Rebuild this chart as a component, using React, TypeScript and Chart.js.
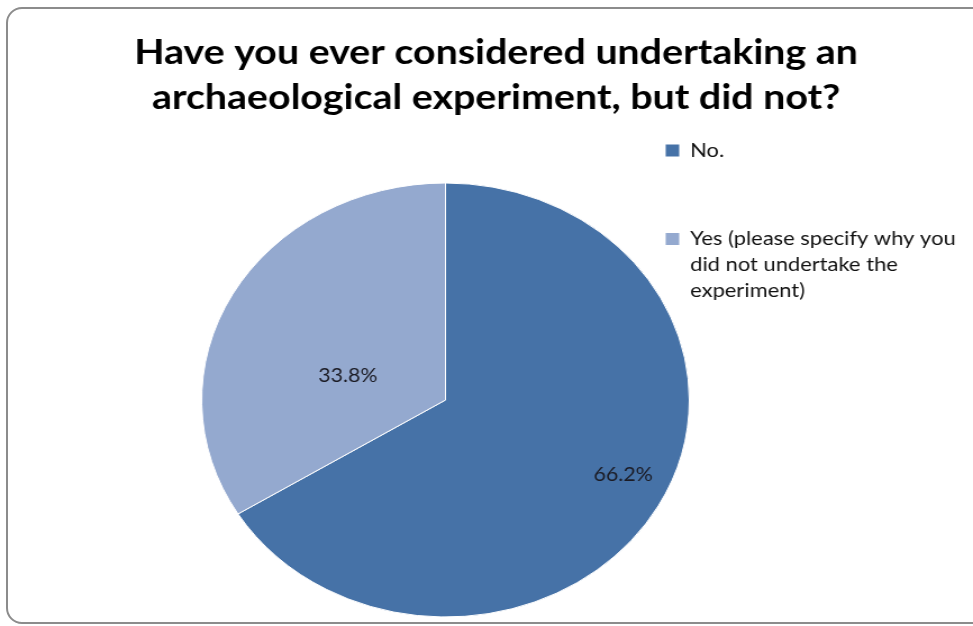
import { useEffect, useRef } from "react";
import { Chart, registerables } from "chart.js";

Chart.register(...registerables);

// ---- data ----
const categories = ["No.", "Yes (please specify why you did not undertake the experiment)"];
const legendLines = [["No."], ["Yes (please specify why you", "did not undertake the", "experiment)"]];
const percentages = [66.2, 33.8];
const sliceColors = ["#4672a7", "#94a9cf"];
const titleLines = ["Have you ever considered undertaking an", "archaeological experiment, but did not?"];

// label placement inside each slice: fraction of radius / fraction of sweep
const labelRadial = [0.806, 0.416];
const labelSweep = [0.484, 0.39];

// ---- layout (canvas units, before horizontal stretch) ----
const PAGE_W = 973;
const PAGE_H = 626;
const CANVAS_W = 866;
const STRETCH = PAGE_W / CANVAS_W;
const TITLE_CENTER_X = 441.5;
const PIE_CENTER_X = 396.5;
const PIE_RADIUS = 217;
const LEGEND_BOX_X = 592.5;
const LEGEND_FONT = 19.5;
const LEGEND_BOX = 12;
const LEGEND_PAD = 69;

const pctLabels = {
  id: "pctLabels",
  afterDatasetsDraw(chart: any) {
    const ctx = chart.ctx;
    const meta = chart.getDatasetMeta(0);
    const data = chart.data.datasets[0].data as number[];
    const total = data.reduce((a, b) => a + b, 0);
    ctx.save();
    ctx.font = "19px Lato";
    ctx.fillStyle = "#1b1b24";
    ctx.textAlign = "center";
    ctx.textBaseline = "middle";
    meta.data.forEach((arc: any, i: number) => {
      const { x, y, startAngle, endAngle, outerRadius } = arc.getProps(
        ["x", "y", "startAngle", "endAngle", "outerRadius"],
        true
      );
      const a = startAngle + (endAngle - startAngle) * labelSweep[i];
      const r = outerRadius * labelRadial[i];
      ctx.fillText(((data[i] / total) * 100).toFixed(1) + "%", x + Math.cos(a) * r, y + Math.sin(a) * r);
    });
    ctx.restore();
  },
};

function PieChart() {
  const ref = useRef<HTMLCanvasElement | null>(null);
  useEffect(() => {
    if (!ref.current) return;
    const mctx = document.createElement("canvas").getContext("2d")!;
    mctx.font = `${LEGEND_FONT}px Lato`;
    const textW = Math.max(...legendLines.flat().map((s) => mctx.measureText(s).width));
    const legendW = LEGEND_PAD + LEGEND_BOX + LEGEND_FONT / 2 + textW + 5;
    const chartRight = LEGEND_BOX_X - LEGEND_PAD;
    const padR = CANVAS_W - chartRight - legendW;
    const padL = 2 * TITLE_CENTER_X - CANVAS_W + padR;
    const leftInset = 2 * PIE_CENTER_X - chartRight - padL;

    const chart = new Chart(ref.current, {
      type: "pie",
      data: {
        labels: categories,
        datasets: [
          {
            data: percentages,
            backgroundColor: sliceColors,
            borderColor: "#ffffff",
            borderWidth: 1,
            radius: PIE_RADIUS,
            clip: false,
            hoverOffset: 0,
          } as any,
        ],
      },
      options: {
        responsive: false,
        animation: false,
        layout: { padding: { left: padL, right: padR, top: 0, bottom: 6 } },
        plugins: {
          title: {
            display: true,
            text: titleLines,
            color: "#000000",
            font: { family: "Lato", size: 35, weight: "bold", lineHeight: "45px" },
            padding: { top: 30.5, bottom: 59.5 },
            fullSize: true,
          },
          subtitle: {
            display: true,
            text: "",
            position: "left",
            fullSize: false,
            font: { size: 10, lineHeight: 1 },
            padding: { top: leftInset - 10, bottom: 0 },
          },
          legend: {
            display: true,
            position: "right",
            align: "start",
            fullSize: true,
            maxWidth: legendW,
            title: { display: true, text: "", font: { size: 10, lineHeight: 1 }, padding: { top: 61.75, bottom: 0 } },
            labels: {
              boxWidth: LEGEND_BOX,
              boxHeight: LEGEND_BOX,
              padding: LEGEND_PAD,
              color: "#111111",
              font: { family: "Lato", size: LEGEND_FONT, lineHeight: "26px" },
              generateLabels: (c: any) => {
                const ds = c.data.datasets[0];
                return c.data.labels.map((_: string, i: number) => ({
                  text: legendLines[i].length === 1 ? legendLines[i][0] : legendLines[i],
                  fillStyle: ds.backgroundColor[i],
                  strokeStyle: ds.backgroundColor[i],
                  lineWidth: 0,
                  hidden: false,
                  index: i,
                  fontColor: "#111111",
                }));
              },
            },
          },
          tooltip: { enabled: false },
        },
      } as any,
      plugins: [pctLabels],
    });
    return () => chart.destroy();
  }, []);

  return (
    <div
      style={{
        position: "absolute",
        left: 0,
        top: 0,
        width: CANVAS_W,
        height: PAGE_H,
        transform: `scaleX(${STRETCH})`,
        transformOrigin: "0 0",
      }}
    >
      <canvas ref={ref} width={CANVAS_W} height={PAGE_H} />
    </div>
  );
}

export default function App() {
  return (
    <div
      style={{
        position: "absolute",
        left: 0,
        top: 0,
        width: PAGE_W,
        height: PAGE_H,
        overflow: "hidden",
        background: "#ffffff",
      }}
    >
      <div
        style={{
          position: "absolute",
          left: 6,
          top: 7,
          width: 985,
          height: 617,
          border: "2px solid #8c8c8c",
          borderRadius: 16,
          boxSizing: "border-box",
        }}
      />
      <PieChart />
    </div>
  );
}
